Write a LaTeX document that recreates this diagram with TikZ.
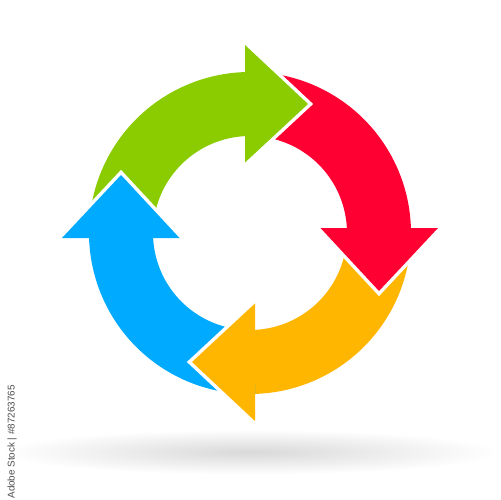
\documentclass[tikz,border=0pt]{standalone}
\usepackage{fontspec}
\setmainfont{Liberation Sans}
\definecolor{cgreen}{RGB}{138,204,0}
\definecolor{cred}{RGB}{255,0,51}
\definecolor{corange}{RGB}{255,182,0}
\definecolor{cblue}{RGB}{0,170,255}
\begin{document}
\begin{tikzpicture}[x=0.02cm,y=-0.02cm,
  gap/.style={white,line width=0.14cm,line join=miter}]
\useasboundingbox (0,0) rectangle (500,500);
\fill[white] (0,0) rectangle (500,500);
% shadow
\shade[inner color=black!15, outer color=white] (250,452) ellipse [x radius=5cm, y radius=0.45cm];
% bands
\foreach \c [count=\k from 0] in {cgreen,cred,corange,cblue} {
  \begin{scope}[rotate around={-90*\k:(250,233)}]
    \fill[\c] plot[domain=181.78:91.78,samples=80] ({250+161*cos(\x)},{233-161*sin(\x)})
      -- plot[domain=92.95:182.95,samples=80] ({250+97*cos(\x)},{233-97*sin(\x)}) -- cycle;
  \end{scope}
}
% heads
\foreach \c [count=\k from 0] in {cgreen,cred,corange,cblue} {
  \begin{scope}[rotate around={-90*\k:(250,233)}]
    \draw[gap] (245,45) -- (308,104) -- (245,162.5);
    \fill[\c] (245,45) -- (308,104) -- (245,162.5) -- cycle;
  \end{scope}
}
\node[rotate=90,text=black!70,font=\fontsize{5.6}{6}\selectfont,inner sep=0pt] (wm) at (12,442) {Adobe Stock | \#87263765};
\end{tikzpicture}
\end{document}
